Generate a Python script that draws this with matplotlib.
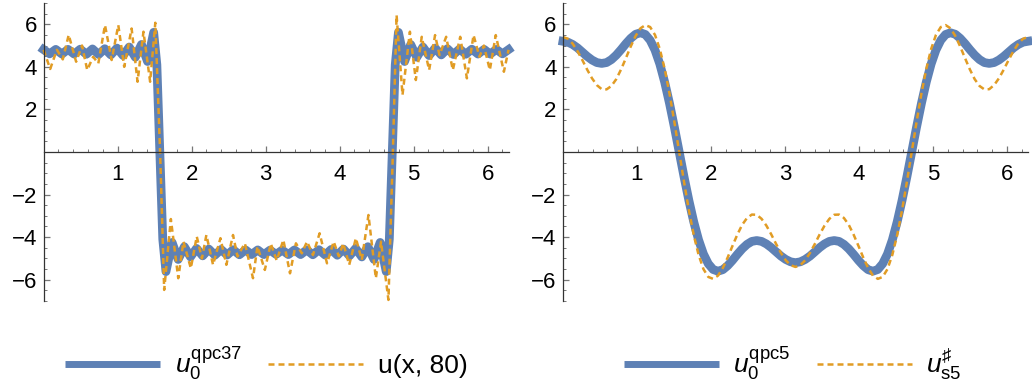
import matplotlib
matplotlib.use('Agg')
import matplotlib.pyplot as plt
import numpy as np
from matplotlib.lines import Line2D
from matplotlib.ticker import FixedLocator, MultipleLocator

# шрифты в духе Mathematica (Arial-подобный)
plt.rcParams['font.family'] = ['Liberation Sans', 'DejaVu Sans']
plt.rcParams['mathtext.fontset'] = 'custom'
plt.rcParams['mathtext.rm'] = 'Liberation Sans'
plt.rcParams['mathtext.it'] = 'Liberation Sans:italic'
plt.rcParams['mathtext.bf'] = 'Liberation Sans:bold'

BLUE = '#5E81B5'
ORANGE = '#E19C24'

# ---- left panel: u0^qpc37 (extrema) ----
qpc37_x = [0.0, 0.083, 0.165, 0.248, 0.331, 0.413, 0.496, 0.579, 0.661, 0.744, 0.827, 0.909,
           0.992, 1.075, 1.157, 1.240, 1.323, 1.405, 1.488, 1.531, 1.571, 1.611,
           1.654, 1.737, 1.819, 1.902, 1.985, 2.067, 2.150, 2.233, 2.315, 2.398, 2.481, 2.563,
           2.646, 2.729, 2.811, 2.894, 2.977, 3.060, 3.142, 3.225, 3.308, 3.390, 3.473, 3.556,
           3.638, 3.721, 3.804, 3.886, 3.969, 4.052, 4.134, 4.217, 4.300, 4.382, 4.465, 4.548,
           4.630, 4.672, 4.712, 4.752,
           4.795, 4.878, 4.961, 5.043, 5.126, 5.209, 5.291, 5.374, 5.457, 5.539, 5.622, 5.705,
           5.787, 5.870, 5.953, 6.035, 6.118, 6.201, 6.283]
qpc37_y = [4.81, 4.61, 4.82, 4.60, 4.82, 4.60, 4.83, 4.59, 4.84, 4.58, 4.85, 4.56,
           4.88, 4.53, 4.93, 4.45, 5.05, 4.25, 5.62, 4.10, 0.0, -4.10,
           -5.62, -4.25, -5.05, -4.45, -4.93, -4.53, -4.88, -4.56, -4.85, -4.58, -4.84, -4.59,
           -4.83, -4.60, -4.82, -4.60, -4.82, -4.61, -4.81, -4.61, -4.82, -4.60, -4.82, -4.60,
           -4.83, -4.59, -4.84, -4.58, -4.85, -4.56, -4.88, -4.53, -4.93, -4.45, -5.05, -4.25,
           -5.62, -4.10, 0.0, 4.10,
           5.62, 4.25, 5.05, 4.45, 4.93, 4.53, 4.88, 4.56, 4.85, 4.58, 4.84, 4.59,
           4.83, 4.60, 4.82, 4.60, 4.82, 4.61, 4.81]

# ---- left panel: u(x, 80) ----
u80_x = [0.00, 0.09, 0.18, 0.26, 0.34, 0.44, 0.52, 0.59, 0.67, 0.74, 0.83, 0.92, 1.01, 1.09,
         1.19, 1.27, 1.35, 1.44, 1.51, 1.575, 1.63, 1.72, 1.82, 1.89, 1.99, 2.07, 2.14, 2.20,
         2.29, 2.39, 2.47, 2.56, 2.62, 2.72, 2.83, 2.89, 2.99, 3.07, 3.15, 3.24, 3.33, 3.41,
         3.49, 3.56, 3.64, 3.73, 3.83, 3.92, 3.99, 4.05, 4.13, 4.22, 4.30, 4.39, 4.49, 4.56,
         4.66, 4.72, 4.77, 4.85, 4.95, 5.03, 5.11, 5.21, 5.29, 5.35, 5.44, 5.53, 5.63, 5.72,
         5.81, 5.89, 5.95, 6.03, 6.11, 6.22, 6.283]
u80_y = [4.80, 3.90, 4.80, 4.35, 5.50, 4.24, 5.00, 3.85, 4.47, 4.16, 5.96, 4.32, 5.96, 4.00,
         5.80, 3.30, 5.65, 3.30, 6.07, 0.00, -6.48, -3.15, -5.93, -4.21, -5.46, -3.97, -5.00, -3.90,
         -5.30, -4.05, -5.30, -3.90, -4.91, -4.29, -5.93, -4.44, -5.54, -4.30, -5.10, -4.13, -5.70, -4.29,
         -4.76, -4.21, -4.84, -3.82, -5.23, -4.21, -4.90, -4.29, -5.30, -4.05, -5.07, -2.96, -5.93, -4.21,
         -6.95, 0.00, 6.43, 2.68, 5.65, 3.38, 5.41, 3.85, 5.49, 4.55, 5.41, 3.85, 5.41, 3.46,
         5.49, 4.47, 5.00, 3.85, 5.49, 3.77, 4.80]

# ---- right panel: values read at step pi/48 ----
grid_x = np.linspace(0, 2 * np.pi, 97)
qpc5_y = [5.20, 5.16, 5.05, 4.89, 4.69, 4.49, 4.32, 4.20, 4.16, 4.20, 4.34, 4.55, 4.81, 5.09,
          5.34, 5.53, 5.60, 5.52, 5.25, 4.79, 4.13, 3.28, 2.28, 1.17, 0.00,
          -1.17, -2.28, -3.28, -4.13, -4.79, -5.25, -5.52, -5.60, -5.53, -5.34, -5.09, -4.81,
          -4.55, -4.34, -4.20, -4.16, -4.20, -4.32, -4.49, -4.69, -4.89, -5.05, -5.16, -5.20,
          -5.16, -5.05, -4.89, -4.69, -4.49, -4.32, -4.20, -4.16, -4.20, -4.34, -4.55, -4.81,
          -5.09, -5.34, -5.53, -5.60, -5.52, -5.25, -4.79, -4.13, -3.28, -2.28, -1.17, 0.00,
          1.17, 2.28, 3.28, 4.13, 4.79, 5.25, 5.52, 5.60, 5.53, 5.34, 5.09, 4.81,
          4.55, 4.34, 4.20, 4.16, 4.20, 4.32, 4.49, 4.69, 4.89, 5.05, 5.16, 5.20]
s5_y = [5.40, 5.32, 5.09, 4.74, 4.32, 3.87, 3.46, 3.14, 2.95, 2.94, 3.10, 3.42, 3.88, 4.41,
        4.96, 5.45, 5.81, 5.96, 5.87, 5.50, 4.83, 3.90, 2.74, 1.41, 0.00,
        -1.41, -2.74, -3.90, -4.83, -5.50, -5.87, -5.96, -5.81, -5.45, -4.96, -4.41, -3.88,
        -3.42, -3.10, -2.94, -2.95, -3.14, -3.46, -3.87, -4.32, -4.74, -5.09, -5.32, -5.40,
        -5.32, -5.09, -4.74, -4.32, -3.87, -3.46, -3.14, -2.95, -2.94, -3.10, -3.42, -3.88,
        -4.41, -4.96, -5.45, -5.81, -5.96, -5.87, -5.50, -4.83, -3.90, -2.74, -1.41, 0.00,
        1.41, 2.74, 3.90, 4.83, 5.50, 5.87, 5.96, 5.81, 5.45, 4.96, 4.41, 3.88,
        3.42, 3.10, 2.94, 2.95, 3.14, 3.46, 3.87, 4.32, 4.74, 5.09, 5.32, 5.40]

labels_left = [r'$u_0^{\mathrm{qpc37}}$', 'u(x, 80)']
labels_right = [r'$u_0^{\mathrm{qpc5}}$', r'$u_{\mathrm{s5}}^{\sharp}$']

x_ticks = [1, 2, 3, 4, 5, 6]
y_ticks = [-6, -4, -2, 2, 4, 6]

BLUE_LW = 6.3
ORANGE_LW = 1.8
DASH = (0, (2.4, 1.6))


def style_axes(ax):
    # оси пересекаются в нуле, как в Mathematica
    ax.set_xlim(0, 2 * np.pi)
    ax.set_ylim(-7, 7)
    ax.patch.set_visible(False)
    for s in ['top', 'right']:
        ax.spines[s].set_visible(False)
    for s in ['left', 'bottom']:
        ax.spines[s].set_position(('data', 0))
        ax.spines[s].set_color('#333333')
        ax.spines[s].set_linewidth(0.9)
    ax.xaxis.set_major_locator(FixedLocator(x_ticks))
    ax.xaxis.set_minor_locator(MultipleLocator(0.2))
    ax.yaxis.set_major_locator(FixedLocator(y_ticks))
    ax.yaxis.set_minor_locator(MultipleLocator(0.5))
    ax.tick_params(which='both', direction='in', color='#777777', labelsize=16)
    ax.tick_params(which='major', length=4.5, width=0.9)
    ax.tick_params(which='minor', length=2.5, width=0.7)
    ax.tick_params(axis='x', pad=9)
    ax.tick_params(axis='y', pad=4.5)


fig = plt.figure(figsize=(10.32, 3.81), dpi=100)
ax1 = fig.add_axes([0.0422, 0.21, 0.4506, 0.7822])
ax2 = fig.add_axes([0.5455, 0.21, 0.4506, 0.7822])

ax1.plot(qpc37_x, qpc37_y, color=BLUE, lw=BLUE_LW, clip_on=False, solid_joinstyle='round')
ax1.plot(u80_x, u80_y, color=ORANGE, lw=ORANGE_LW, linestyle=DASH, clip_on=False)
ax2.plot(grid_x, qpc5_y, color=BLUE, lw=BLUE_LW, clip_on=False, solid_joinstyle='round')
ax2.plot(grid_x, s5_y, color=ORANGE, lw=ORANGE_LW, linestyle=DASH, clip_on=False)

for ax in (ax1, ax2):
    style_axes(ax)

# легенды под каждым графиком
handles = [Line2D([], [], color=BLUE, lw=5, solid_capstyle='butt'),
           Line2D([], [], color=ORANGE, lw=ORANGE_LW, linestyle=DASH)]
for ax, labels, cx in ((ax1, labels_left, 0.258), (ax2, labels_right, 0.768)):
    ax.legend(handles, labels, loc='center', bbox_to_anchor=(cx, 0.045),
              bbox_transform=fig.transFigure, ncol=2, frameon=False, fontsize=19,
              handlelength=3.6, handletextpad=0.55, columnspacing=1.0)

plt.savefig('out.png', dpi=100)
plt.close()
